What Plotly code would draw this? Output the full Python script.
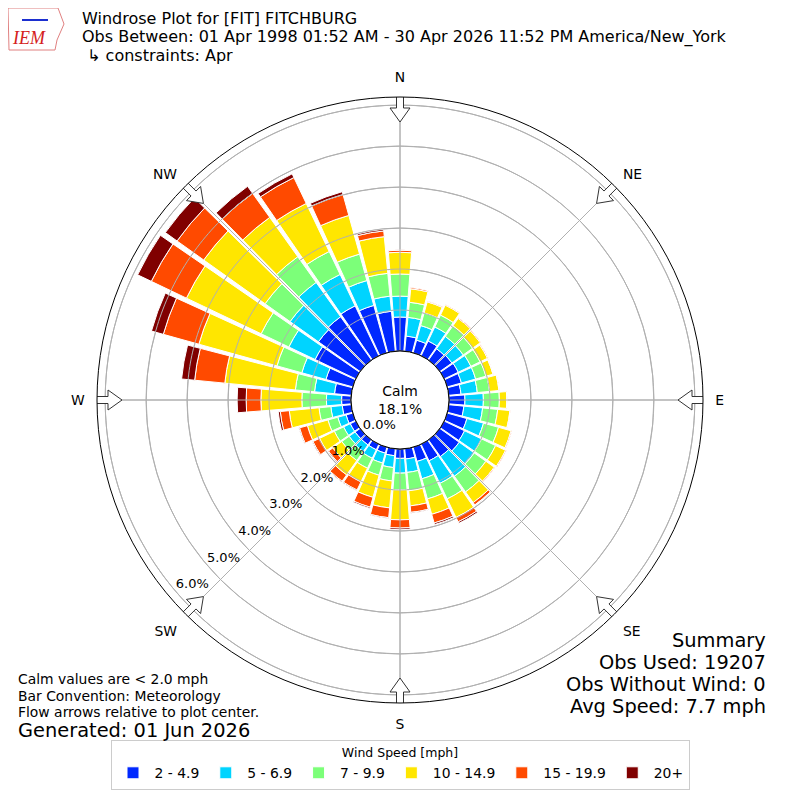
import math
import plotly.graph_objects as go

# wind directions (deg, meteorological), 10 deg bins starting at N
directions = list(range(0, 360, 10))
speed_bins = ["2 - 4.9", "5 - 6.9", "7 - 9.9", "10 - 14.9", "15 - 19.9", "20+"]
bin_colors = ["#0028ff", "#00d4ff", "#7cff79", "#ffe600", "#ff4a00", "#800000"]

pct_2_5 = [0.83, 0.37, 0.32, 0.40, 0.34, 0.36, 0.38, 0.36, 0.30, 0.39, 0.37, 0.50,
           0.55, 0.58, 0.50, 0.45, 0.36, 0.25, 0.23, 0.17, 0.15, 0.15, 0.15, 0.15,
           0.15, 0.17, 0.22, 0.23, 0.41, 0.68, 1.10, 1.25, 1.30, 1.35, 1.20, 0.98]
pct_5_7 = [0.51, 0.46, 0.37, 0.38, 0.37, 0.34, 0.34, 0.36, 0.40, 0.45, 0.46, 0.42,
           0.46, 0.45, 0.59, 0.61, 0.44, 0.33, 0.36, 0.29, 0.25, 0.23, 0.20, 0.18,
           0.18, 0.21, 0.28, 0.37, 0.49, 0.61, 0.71, 0.85, 1.03, 0.85, 0.63, 0.37]
pct_7_10 = [0.54, 0.37, 0.32, 0.32, 0.32, 0.28, 0.25, 0.26, 0.30, 0.39, 0.37, 0.38,
            0.38, 0.35, 0.47, 0.42, 0.51, 0.45, 0.41, 0.33, 0.31, 0.27, 0.27, 0.22,
            0.25, 0.25, 0.29, 0.60, 0.47, 0.63, 0.75, 0.75, 0.77, 0.62, 0.67, 0.56]
pct_10_15 = [0.53, 0.33, 0.28, 0.27, 0.22, 0.23, 0.20, 0.18, 0.23, 0.18, 0.30, 0.32,
             0.27, 0.25, 0.32, 0.50, 0.39, 0.37, 0.73, 0.66, 0.56, 0.37, 0.43, 0.27,
             0.40, 0.52, 0.73, 1.00, 1.73, 1.98, 2.02, 1.84, 1.18, 1.30, 0.98, 0.90]
pct_15_20 = [0.05, 0.03, 0.02, 0.02, 0.02, 0.02, 0.02, 0.01, 0.01, 0.01, 0.01, 0.02,
             0.02, 0.02, 0.07, 0.12, 0.22, 0.16, 0.20, 0.24, 0.25, 0.22, 0.19, 0.13,
             0.18, 0.20, 0.22, 0.36, 0.74, 0.90, 0.95, 0.80, 0.72, 0.70, 0.53, 0.14]
pct_20 = [0.01, 0.0, 0.0, 0.0, 0.0, 0.0, 0.0, 0.0, 0.0, 0.0, 0.0, 0.0,
          0.0, 0.0, 0.01, 0.04, 0.04, 0.02, 0.04, 0.02, 0.03, 0.02, 0.02, 0.02,
          0.02, 0.02, 0.05, 0.22, 0.32, 0.30, 0.37, 0.35, 0.21, 0.10, 0.07, 0.04]
all_bins = [pct_2_5, pct_5_7, pct_7_10, pct_10_15, pct_15_20, pct_20]

radial_ticks = [0, 1, 2, 3, 4, 5, 6]
radial_labels = ["0.0%", "1.0%", "2.0%", "3.0%", "4.0%", "5.0%", "6.0%"]
compass = ["N", "NE", "E", "SE", "S", "SW", "W", "NW"]
compass_deg = [0, 45, 90, 135, 180, 225, 270, 315]

calm_pct = "18.1%"
title_lines = ["Windrose Plot for [FIT] FITCHBURG",
               "Obs Between: 01 Apr 1998 01:52 AM - 30 Apr 2026 11:52 PM America/New_York",
               " \u21b3 constraints: Apr"]
notes = ["Calm values are < 2.0 mph", "Bar Convention: Meteorology",
         "Flow arrows relative to plot center."]
summary = ["Summary", "Obs Used: 19207", "Obs Without Wind: 0", "Avg Speed: 7.7 mph"]

# page is 800x800 but the html body has an 8px margin
OFF = 8
W = 800 - 2 * OFF
OUTER = 303.0
HOLE = 49.0
RMAX = 6.2
PX_PER = (OUTER - HOLE) / RMAX
GRID = "#b0b0b0"
FONT = "DejaVu Sans"


def px(x):
    return (x - OFF) / W


def py(y):
    return 1 - (y - OFF) / W


fig = go.Figure()

for name, vals, col in zip(speed_bins, all_bins, bin_colors):
    fig.add_trace(go.Barpolar(r=vals, theta=directions, width=9, name=name,
                              marker=dict(color=col, line=dict(color="white", width=1))))

# grid drawn on top of the bars, like the original
circle = list(range(361))
for k in radial_ticks[1:]:
    fig.add_trace(go.Scatterpolar(r=[k] * 361, theta=circle, mode="lines",
                                  line=dict(color=GRID, width=1), showlegend=False,
                                  hoverinfo="skip"))
for d in compass_deg:
    fig.add_trace(go.Scatterpolar(r=[0, RMAX], theta=[d, d], mode="lines",
                                  line=dict(color=GRID, width=1), showlegend=False,
                                  hoverinfo="skip"))

# calm circle outline
fig.add_trace(go.Scatterpolar(r=[0] * 361, theta=circle, mode="lines",
                              line=dict(color="black", width=1), showlegend=False,
                              hoverinfo="skip"))

# flow arrows at the 8 compass points (pointing towards centre)
arrow = [(306, -3.5), (292, -3.5), (292, -10), (278, 0), (292, 10), (292, 3.5),
         (306, 3.5), (306, -3.5)]
for d in compass_deg:
    rr, tt = [], []
    for u, v in arrow:
        rr.append((math.hypot(u, v) - HOLE) / PX_PER)
        tt.append(d + math.degrees(math.atan2(v, u)))
    fig.add_trace(go.Scatterpolar(r=rr, theta=tt, mode="lines", fill="toself",
                                  fillcolor="white", line=dict(color="#333333", width=1),
                                  showlegend=False, hoverinfo="skip", cliponaxis=False))

# radial tick labels
fig.add_trace(go.Scatterpolar(r=radial_ticks, theta=[229.5] * len(radial_ticks),
                              mode="text", text=radial_labels, textposition="top right",
                              textfont=dict(size=13, color="black", family=FONT),
                              showlegend=False, hoverinfo="skip", cliponaxis=False))

cx, cy = 400, 400
fig.update_layout(
    width=W, height=W,
    margin=dict(l=0, r=0, t=0, b=0),
    paper_bgcolor="white",
    font=dict(family=FONT, color="black", size=13.9),
    polar=dict(
        domain=dict(x=[px(cx - OUTER), px(cx + OUTER)], y=[py(cy + OUTER), py(cy - OUTER)]),
        hole=HOLE / OUTER,
        bgcolor="white",
        radialaxis=dict(range=[0, RMAX], tickvals=radial_ticks, showticklabels=False,
                        ticks="", showline=False, gridcolor=GRID, gridwidth=1),
        angularaxis=dict(direction="clockwise", rotation=90, tickvals=compass_deg,
                         ticktext=compass, ticks="outside", ticklen=9,
                         tickcolor="rgba(0,0,0,0)", showline=True, linecolor="black",
                         linewidth=1, gridcolor=GRID, gridwidth=1,
                         tickfont=dict(size=13.9)),
    ),
    barmode="stack",
    legend=dict(orientation="h", x=px(400), xanchor="center", y=py(765), yanchor="middle",
                bordercolor="#cccccc", borderwidth=1, font=dict(size=13.9), itemwidth=33,
                title=dict(text="Wind Speed [mph]", side="top center", font=dict(size=12.5))),
)

ann = []
for i, t in enumerate(title_lines):
    ann.append(dict(x=px(80), y=py(18.5 + 18.7 * i), text=t, font=dict(size=16)))
for i, t in enumerate(notes):
    ann.append(dict(x=px(16), y=py(679 + 16.5 * i), text=t, font=dict(size=13.9)))
ann.append(dict(x=px(16), y=py(730), text="Generated: 01 Jun 2026", font=dict(size=19.4)))
for i, t in enumerate(summary):
    ann.append(dict(x=px(768), y=py(640 + 22 * i), text=t, font=dict(size=19.4),
                    xanchor="right"))
ann.append(dict(x=px(cx), y=py(cy), text="Calm<br>" + calm_pct, font=dict(size=13.9),
                xanchor="center"))
ann.append(dict(x=px(29), y=py(38), text="<i>IEM</i>",
                font=dict(size=18, color="#d42020", family="Liberation Serif"), xanchor="center"))
for a in ann:
    a.setdefault("xanchor", "left")
    a["xref"] = "paper"
    a["yref"] = "paper"
    a["yanchor"] = "middle"
    a["showarrow"] = False
fig.update_layout(annotations=ann)

# rough Iowa outline for the logo
fig.add_shape(type="path", xref="paper", yref="paper",
              path="M {} {} L {} {} L {} {} L {} {} L {} {} L {} {} Z".format(
                  px(8), py(8), px(58), py(8), px(64), py(24), px(57), py(40),
                  px(55), py(50), px(9), py(50)),
              line=dict(color="#e08080", width=1))
# little blue wind vane of the logo
fig.add_shape(type="line", xref="paper", yref="paper", x0=px(22), y0=py(20), x1=px(48),
              y1=py(20), line=dict(color="#1c2fd0", width=2))

fig.write_html("out.html")
